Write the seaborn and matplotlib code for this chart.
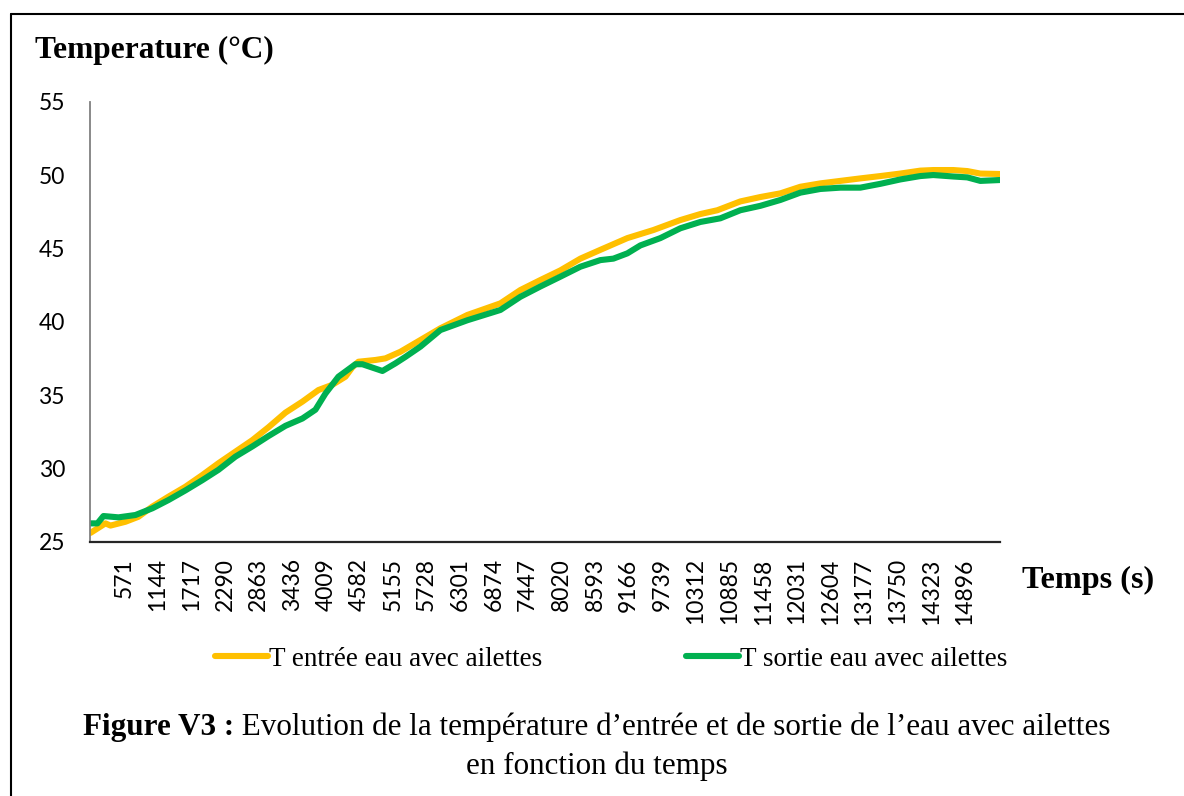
import pandas as pd
import matplotlib
matplotlib.use("Agg")
import matplotlib.pyplot as plt
from matplotlib.lines import Line2D
import seaborn as sns

# Water inlet temperature (°C) versus time (s), finned configuration
time_in = [0, 255, 341, 596, 817, 1056, 1328, 1618, 1907, 2180, 2469, 2759,
           3031, 3321, 3610, 3883, 4121, 4343, 4462, 4564, 4854, 5024, 5279,
           5620, 5960, 6420, 6982, 7323, 7663, 8004, 8345, 8685, 9145, 9588,
           10048, 10388, 10678, 11069, 11410, 11751, 12091, 12432, 12772,
           13113, 13454, 13794, 14135, 14356, 14697, 14935, 15157, 15490]
temp_in = [25.6, 26.25, 26.1, 26.36, 26.7, 27.4, 28.07, 28.75, 29.55, 30.35,
           31.14, 31.93, 32.8, 33.8, 34.55, 35.34, 35.7, 36.25, 36.9, 37.27,
           37.39, 37.5, 37.95, 38.75, 39.55, 40.46, 41.25, 42.16, 42.84, 43.5,
           44.3, 44.9, 45.7, 46.25, 46.93, 47.34, 47.6, 48.2, 48.5, 48.75,
           49.2, 49.43, 49.6, 49.77, 49.93, 50.1, 50.3, 50.34, 50.34, 50.27,
           50.1, 50.07]

# Water outlet temperature (°C) versus time (s), finned configuration
time_out = [0, 119, 221, 477, 766, 1056, 1328, 1618, 1907, 2180, 2469, 2759,
            3031, 3321, 3610, 3832, 4002, 4223, 4513, 4632, 4973, 5194, 5364,
            5620, 5960, 6420, 6982, 7323, 7663, 8004, 8345, 8685, 8907, 9145,
            9366, 9707, 10048, 10388, 10729, 11069, 11410, 11751, 12091,
            12432, 12772, 13113, 13454, 13794, 14135, 14356, 14697, 14935,
            15157, 15490]
temp_out = [26.25, 26.25, 26.75, 26.66, 26.82, 27.28, 27.84, 28.5, 29.2, 29.9,
            30.8, 31.5, 32.2, 32.9, 33.4, 34.0, 35.1, 36.25, 37.1, 37.1,
            36.64, 37.16, 37.6, 38.3, 39.43, 40.1, 40.8, 41.7, 42.4, 43.07,
            43.75, 44.2, 44.3, 44.66, 45.2, 45.7, 46.37, 46.8, 47.05, 47.6,
            47.9, 48.3, 48.8, 49.05, 49.14, 49.14, 49.4, 49.7, 49.93, 50.0,
            49.9, 49.84, 49.6, 49.66]

tick_times = [571, 1144, 1717, 2290, 2863, 3436, 4009, 4582, 5155, 5728,
              6301, 6874, 7447, 8020, 8593, 9166, 9739, 10312, 10885, 11458,
              12031, 12604, 13177, 13750, 14323, 14896]
y_ticks = [25, 30, 35, 40, 45, 50, 55]

series_names = ["T entrée eau avec ailettes", "T sortie eau avec ailettes"]
colors = ["#FFC000", "#00B050"]

df = pd.concat([
    pd.DataFrame({"time": time_in, "temp": temp_in, "series": series_names[0]}),
    pd.DataFrame({"time": time_out, "temp": temp_out, "series": series_names[1]}),
], ignore_index=True)

sns.set_theme(style="white")
plt.rcParams["font.family"] = ["Lato", "DejaVu Sans"]
plt.rcParams["text.color"] = "black"
plt.rcParams["xtick.color"] = "black"
plt.rcParams["ytick.color"] = "black"

W, H = 1184, 796
fig = plt.figure(figsize=(W / 100, H / 100), dpi=100)
ax = fig.add_axes([90 / W, 1 - 541.7 / H, 910 / W, 440 / H])

LW = 4.4
sns.lineplot(data=df, x="time", y="temp", hue="series", palette=colors,
             linewidth=LW, sort=False, legend=False, ax=ax)
for line in ax.get_lines():
    line.set_solid_joinstyle("round")

ax.set_xlim(-8, 15492)
ax.set_ylim(25, 55)
ax.set_xticks(tick_times)
ax.set_xticklabels([str(t) for t in tick_times], rotation=90, va="top",
                   ha="center", fontsize=16.5, color="black")
ax.set_yticks(y_ticks)
ax.set_yticklabels([str(v) for v in y_ticks], fontsize=16.5, color="black")
ax.tick_params(axis="x", length=0, pad=12)
ax.tick_params(axis="y", length=0, pad=18)
ax.set_xlabel("")
ax.set_ylabel("")
for side in ("top", "right"):
    ax.spines[side].set_visible(False)
ax.spines["left"].set_color("#808080")
ax.spines["left"].set_linewidth(1.3)
ax.spines["bottom"].set_color("#262626")
ax.spines["bottom"].set_linewidth(1.6)

serif = ["Liberation Serif", "DejaVu Serif"]

# Axis titles
fig.text(35 / W, 1 - 50 / H, "Temperature (°C)", family=serif, color="black",
         fontweight="bold", fontsize=22.6, ha="left", va="center")
fig.text(1022 / W, 1 - 580 / H, "Temps (s)", family=serif, color="black",
         fontweight="bold", fontsize=23.2, ha="left", va="center")

# Legend under the plot
handles = [Line2D([], [], color=c, lw=LW) for c in colors]
leg = fig.legend(handles, series_names, loc="center", ncol=2,
                 bbox_to_anchor=(611 / W, 1 - 659 / H), frameon=False,
                 prop={"family": serif, "size": 19.5}, handlelength=1.95,
                 handletextpad=0.05, columnspacing=5.3)
for t in leg.get_texts():
    t.set_color("black")

# Caption
cap_y = 1 - 727 / H
t_bold = fig.text(0, cap_y, "Figure V3 :", family=serif, fontweight="bold",
                  fontsize=22.4, ha="left", va="center", color="black")
t_reg = fig.text(0, cap_y, " Evolution de la température d’entrée et de sortie de l’eau avec ailettes",
                 family=serif, fontsize=22.4, ha="left", va="center", color="black")
fig.canvas.draw()
r = fig.canvas.get_renderer()
wb = t_bold.get_window_extent(r).width
wr = t_reg.get_window_extent(r).width
x0 = 597 - (wb + wr) / 2
t_bold.set_x(x0 / W)
t_reg.set_x((x0 + wb) / W)
fig.text(597 / W, 1 - 766 / H, "en fonction du temps", family=serif,
         fontsize=22.4, ha="center", va="center", color="black")

# Frame around the figure
fig.add_artist(Line2D([11 / W, 11 / W], [0, 1 - 14 / H], transform=fig.transFigure,
                      color="black", lw=1.5))
fig.add_artist(Line2D([11 / W, 1], [1 - 14 / H, 1 - 14 / H], transform=fig.transFigure,
                      color="black", lw=1.5))

fig.savefig("out.png", dpi=100, facecolor="white")
